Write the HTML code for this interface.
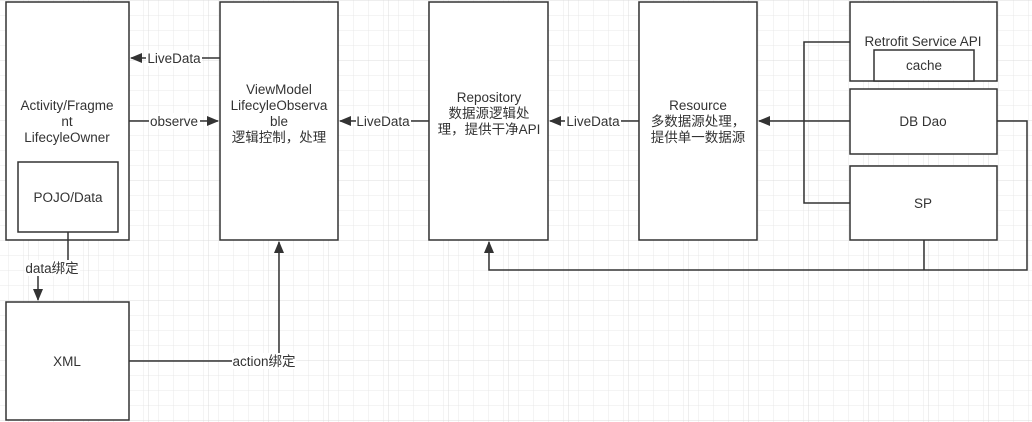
<!DOCTYPE html>
<html><head><meta charset="utf-8"><style>
body{margin:0;width:1032px;height:422px;overflow:hidden;background:#fff;}
svg{display:block}
text{font-family:"Liberation Sans","Noto Sans CJK SC",sans-serif;font-size:13.5px;fill:#333;text-anchor:middle}
</style></head><body>
<svg width="1032" height="422" xmlns="http://www.w3.org/2000/svg">
<defs>
<pattern id="g" x="8" y="0" width="15" height="15" patternUnits="userSpaceOnUse">
<path d="M0 0H15M0 0V15" stroke="#e8e8e8" stroke-width="1" fill="none"/>
</pattern>
<pattern id="G" x="28" y="0" width="60" height="60" patternUnits="userSpaceOnUse">
<path d="M0 0H60M0 0V60" stroke="#dcdcdc" stroke-width="1" fill="none"/>
</pattern>
<marker id="a" markerWidth="12" markerHeight="10" refX="11" refY="5" orient="auto" markerUnits="userSpaceOnUse">
<path d="M0 0L12 5L0 10z" fill="#333"/></marker>
</defs>
<rect width="1032" height="422" fill="url(#g)"/>
<rect width="1032" height="422" fill="url(#G)"/>
<g fill="#fff" stroke="#333" stroke-width="1.5">
<rect x="6" y="2" width="123" height="238"/>
<rect x="18" y="162" width="100" height="70"/>
<rect x="220" y="2" width="118" height="238"/>
<rect x="429" y="2" width="119" height="238"/>
<rect x="639" y="2" width="118" height="238"/>
<rect x="850" y="2" width="147" height="79"/>
<rect x="874" y="50" width="100" height="31"/>
<rect x="850" y="89" width="147" height="65"/>
<rect x="850" y="166" width="147" height="74"/>
<rect x="6" y="302" width="123" height="118"/>
</g>
<g stroke="#333" stroke-width="1.5" fill="none">
<path d="M220 58H131" marker-end="url(#a)"/>
<path d="M129 121H218" marker-end="url(#a)"/>
<path d="M429 121H340" marker-end="url(#a)"/>
<path d="M639 121H550" marker-end="url(#a)"/>
<path d="M850 121H759" marker-end="url(#a)"/>
<path d="M850 42H804V203H850"/>
<path d="M997 121H1027V270H489V242" marker-end="url(#a)"/>
<path d="M924 240V270"/>
<path d="M68 232V260"/>
<path d="M38 276V300" marker-end="url(#a)"/>
<path d="M129 361H279V242" marker-end="url(#a)"/>
</g>
<g fill="#fff">
<rect x="146" y="50" width="56" height="16"/>
<rect x="149" y="113" width="51" height="16"/>
<rect x="356" y="113" width="55" height="16"/>
<rect x="565" y="113" width="56" height="16"/>
<rect x="25" y="260" width="55" height="16"/>
<rect x="232" y="353" width="64" height="16"/>
</g>
<text x="174" y="63">LiveData</text>
<text x="174" y="126">observe</text>
<text x="383" y="126">LiveData</text>
<text x="593" y="126">LiveData</text>
<text x="52" y="273">data绑定</text>
<text x="264" y="366">action绑定</text>
<text x="67" y="110">Activity/Fragme</text>
<text x="67" y="126">nt</text>
<text x="67" y="142">LifecyleOwner</text>
<text x="68" y="202">POJO/Data</text>
<text x="279" y="94">ViewModel</text>
<text x="279" y="110">LifecyleObserva</text>
<text x="279" y="126">ble</text>
<text x="279" y="142">逻辑控制，处理</text>
<text x="489" y="102">Repository</text>
<text x="489" y="118">数据源逻辑处</text>
<text x="489" y="134">理，提供干净API</text>
<text x="698" y="110">Resource</text>
<text x="698" y="126">多数据源处理，</text>
<text x="698" y="142">提供单一数据源</text>
<text x="923" y="46">Retrofit Service API</text>
<text x="924" y="70">cache</text>
<text x="923" y="126">DB Dao</text>
<text x="923" y="208">SP</text>
<text x="67" y="366">XML</text>
</svg>
</body></html>
